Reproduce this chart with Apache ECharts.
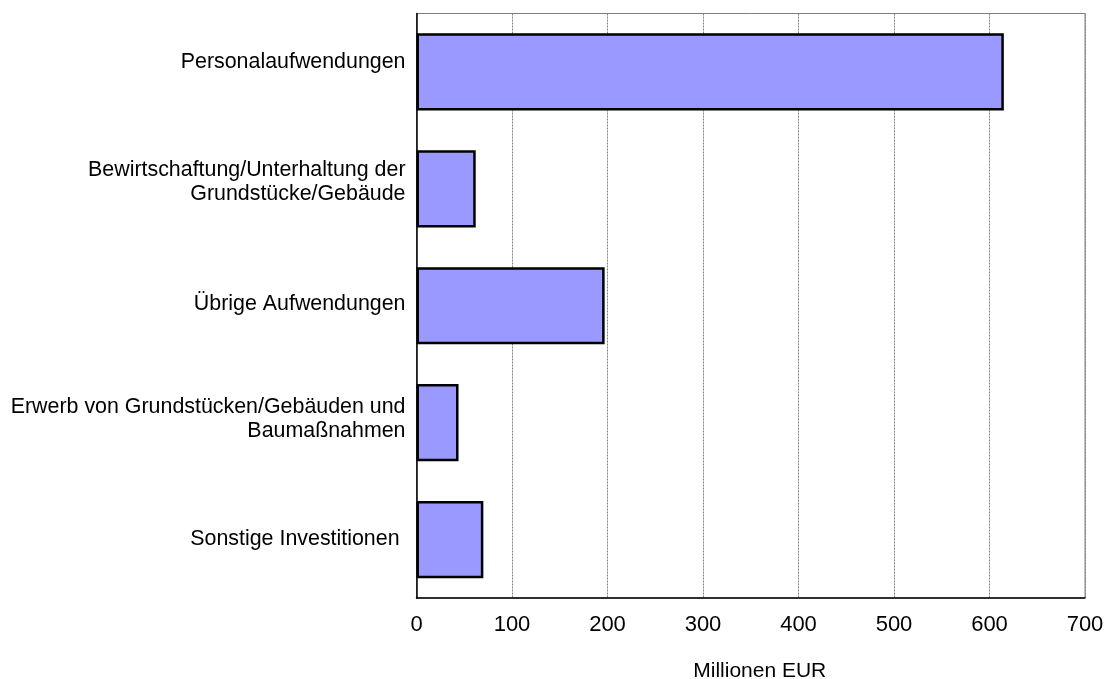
<!DOCTYPE html>
<html><head><meta charset="utf-8">
<script src="https://cdn.jsdelivr.net/npm/echarts@6/dist/echarts.min.js"></script>
<style>html,body{margin:0;padding:0;background:#fff}#c{width:1112px;height:679px}</style>
</head><body><div id="c"></div>
<script>
const categories = [
  "Personalaufwendungen",
  "Bewirtschaftung/Unterhaltung der\nGrundstücke/Gebäude",
  "Übrige Aufwendungen",
  "Erwerb von Grundstücken/Gebäuden und\nBaumaßnahmen",
  "Sonstige Investitionen "
];
const values = [615, 62, 197, 44, 70];
const xTicks = [0, 100, 200, 300, 400, 500, 600, 700];
// vertical nudge (px, upward) of each category label, as laid out in the original
const labelLift = [10, 7, 2, 4, 0];

const rich = {};
labelLift.forEach((l, i) => { rich['s' + i] = { height: 2 * l, lineHeight: 2 * l, fontSize: 1 }; });

const chart = echarts.init(document.getElementById('c'));
chart.setOption({
  animation: false,
  textStyle: { fontFamily: 'Liberation Sans, Arial, sans-serif' },
  grid: { left: 416.5, right: 27, top: 13.5, bottom: 81, outerBoundsMode: 'none', containLabel: false,
          show: true, borderColor: '#808080', borderWidth: 1 },
  xAxis: {
    type: 'value', min: 0, max: 700, interval: 100,
    name: 'Millionen EUR', nameLocation: 'middle', nameGap: 63,
    nameTextStyle: { fontSize: 21, color: '#000', padding: [0, 0, 0, 18] },
    axisLine: { show: true, lineStyle: { color: '#000', width: 1.5 } },
    axisTick: { show: false },
    axisLabel: { fontSize: 22, color: '#000', margin: 16, formatter: v => xTicks.includes(v) ? String(v) : '' },
    splitLine: { show: true, lineStyle: { color: '#808080', type: [2, 1], width: 1 } }
  },
  yAxis: {
    type: 'category', inverse: true, data: categories,
    axisLine: { show: true, onZero: false, lineStyle: { color: '#000', width: 1.5 } },
    axisTick: { show: false },
    axisLabel: {
      fontSize: 21.4, color: '#000', margin: 11, align: 'right', lineHeight: 24,
      formatter: (v, i) => labelLift[i] ? v + '\n{s' + i + '| }' : v,
      rich: rich
    },
    splitLine: { show: false }
  },
  series: [{
    type: 'bar', data: values, barCategoryGap: '34%',
    itemStyle: { color: '#9999ff', borderColor: '#000', borderWidth: 2.5 }
  }]
});
</script></body></html>
